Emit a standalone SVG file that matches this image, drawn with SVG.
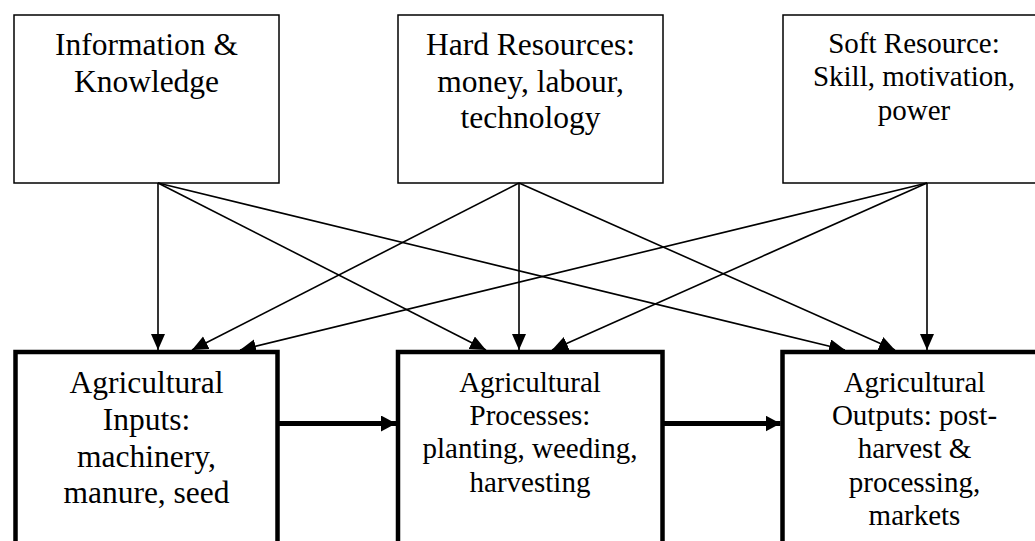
<svg xmlns="http://www.w3.org/2000/svg" width="1035" height="541" viewBox="0 0 1035 541">
  <style>
    .res { fill: #fff; stroke: #000; stroke-width: 1.5; }
    .stage { fill: #fff; stroke: #000; stroke-width: 4.5; }
    .lbl { font-family: "Liberation Serif", "Times New Roman", serif; fill: #000; text-anchor: middle; }
    .big { font-size: 31.5px; }
    .small { font-size: 29px; }
    .thin { stroke: #000; stroke-width: 1.6; fill: none; marker-end: url(#headThin); }
    .thick { stroke: #000; stroke-width: 5; fill: none; marker-end: url(#headThick); }
  </style>
  <defs>
    <marker id="headThin" markerUnits="userSpaceOnUse" markerWidth="17" markerHeight="15" refX="16" refY="7" orient="auto">
      <path d="M0,0 L16,7 L0,14 Z" fill="#000"/>
    </marker>
    <marker id="headThick" markerUnits="userSpaceOnUse" markerWidth="16" markerHeight="17" refX="15" refY="8" orient="auto">
      <path d="M0,0 L15,8 L0,16 Z" fill="#000"/>
    </marker>
  </defs>

  <rect width="1035" height="541" fill="#fff"/>

  <!-- resource boxes -->
  <g id="info">
    <rect class="res" x="14" y="15" width="265" height="168"/>
    <text class="lbl big" x="146.5" y="55">Information &amp;</text>
    <text class="lbl big" x="146.5" y="92">Knowledge</text>
  </g>
  <g id="hard">
    <rect class="res" x="398" y="15" width="265" height="168"/>
    <text class="lbl big" x="530.5" y="55">Hard Resources:</text>
    <text class="lbl big" x="530.5" y="92">money, labour,</text>
    <text class="lbl big" x="530.5" y="128">technology</text>
  </g>
  <g id="soft">
    <rect class="res" x="783" y="15" width="265" height="168"/>
    <text class="lbl small" x="914" y="53">Soft Resource:</text>
    <text class="lbl small" x="914" y="86">Skill, motivation,</text>
    <text class="lbl small" x="914" y="120">power</text>
  </g>

  <!-- production stages -->
  <g id="inputs">
    <rect class="stage" x="15.5" y="352" width="262" height="220"/>
    <text class="lbl big" x="146.5" y="393">Agricultural</text>
    <text class="lbl big" x="146.5" y="430">Inputs:</text>
    <text class="lbl big" x="146.5" y="467">machinery,</text>
    <text class="lbl big" x="146.5" y="503">manure, seed</text>
  </g>
  <g id="processes">
    <rect class="stage" x="398" y="352" width="264.5" height="220"/>
    <text class="lbl small" x="530" y="392">Agricultural</text>
    <text class="lbl small" x="530" y="425">Processes:</text>
    <text class="lbl small" x="530" y="458">planting, weeding,</text>
    <text class="lbl small" x="530" y="492">harvesting</text>
  </g>
  <g id="outputs">
    <rect class="stage" x="782.5" y="352" width="265" height="220"/>
    <text class="lbl small" x="914.5" y="392">Agricultural</text>
    <text class="lbl small" x="914.5" y="425">Outputs: post-</text>
    <text class="lbl small" x="914.5" y="458">harvest &amp;</text>
    <text class="lbl small" x="914.5" y="492">processing,</text>
    <text class="lbl small" x="914.5" y="525">markets</text>
  </g>

  <!-- connectors -->
  <g id="connectors">
    <line class="thin" x1="158" y1="183" x2="158" y2="350"/>
    <line class="thin" x1="158" y1="183" x2="486" y2="350"/>
    <line class="thin" x1="158" y1="183" x2="845" y2="350"/>
    <line class="thin" x1="519" y1="183" x2="192" y2="350"/>
    <line class="thin" x1="519" y1="183" x2="519" y2="350"/>
    <line class="thin" x1="519" y1="183" x2="895" y2="350"/>
    <line class="thin" x1="927" y1="183" x2="240" y2="350"/>
    <line class="thin" x1="927" y1="183" x2="552" y2="350"/>
    <line class="thin" x1="927" y1="183" x2="927" y2="350"/>
    <line class="thick" x1="279" y1="423.5" x2="396" y2="423.5"/>
    <line class="thick" x1="664" y1="423.5" x2="780.5" y2="423.5"/>
  </g>
</svg>
